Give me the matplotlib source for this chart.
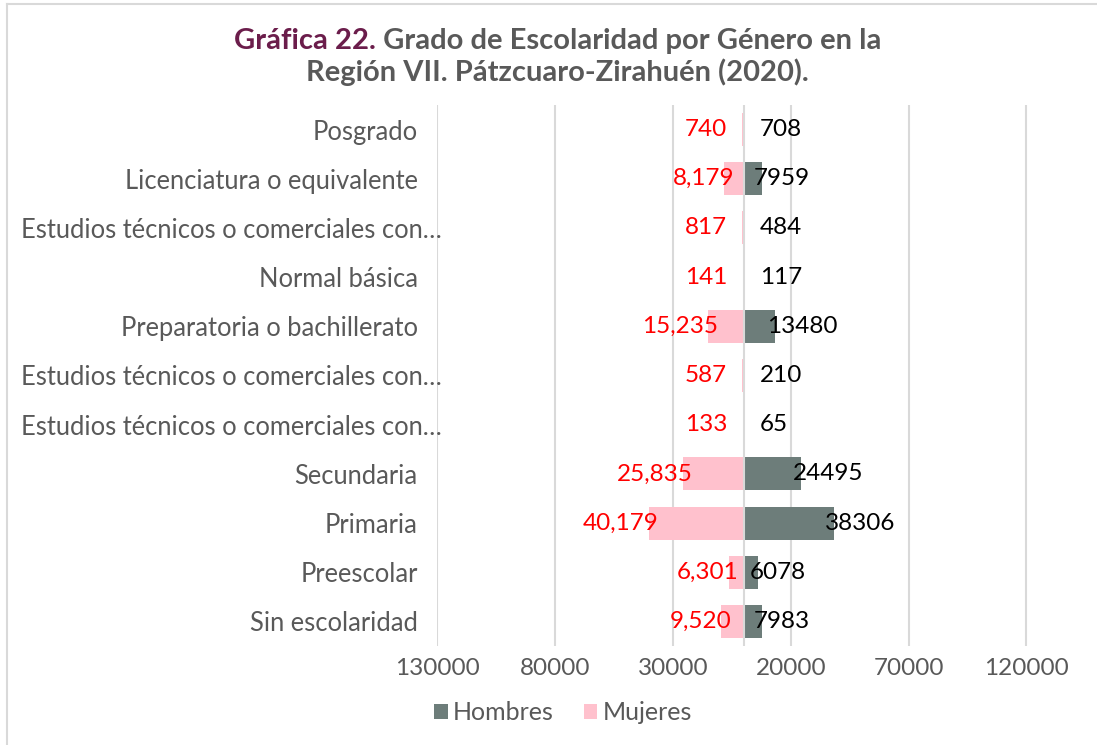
import matplotlib
matplotlib.use("Agg")
import matplotlib.pyplot as plt
from matplotlib.patches import Patch
from matplotlib.lines import Line2D
from matplotlib.transforms import ScaledTranslation

categories = [
    "Posgrado",
    "Licenciatura o equivalente",
    "Estudios técnicos o comerciales con…",
    "Normal básica",
    "Preparatoria o bachillerato",
    "Estudios técnicos o comerciales con…",
    "Estudios técnicos o comerciales con…",
    "Secundaria",
    "Primaria",
    "Preescolar",
    "Sin escolaridad",
]
mujeres = [740, 8179, 817, 141, 15235, 587, 133, 25835, 40179, 6301, 9520]
hombres = [708, 7959, 484, 117, 13480, 210, 65, 24495, 38306, 6078, 7983]
tick_values = [-130000, -80000, -30000, 20000, 70000, 120000]
tick_labels = ["130000", "80000", "30000", "20000", "70000", "120000"]

FONT = ["Lato", "DejaVu Sans"]
plt.rcParams["font.family"] = FONT

GRAY = "#595959"
MAROON = "#6B1D4B"
PINK = "#FFC1CD"
DARK = "#6D7D7A"
GRID = "#D9D9D9"

fig = plt.figure(figsize=(10.97, 7.45), dpi=100)
ax = fig.add_axes([0.3984, 0.1329, 0.5588, 0.7262])

n = len(categories)
y = list(range(n))[::-1]
bar_h = 0.67

ax.barh(y, [-m for m in mujeres], height=bar_h, color=PINK, zorder=3)
ax.barh(y, hombres, height=bar_h, color=DARK, zorder=3)

ax.set_xlim(-130000, 130000)
ax.set_ylim(-0.5, n - 0.5)
ax.set_xticks(tick_values)
ax.set_xticklabels(tick_labels)
ax.set_yticks(y)
ax.set_yticklabels(categories)
ax.tick_params(axis="both", length=0, colors=GRAY)
ax.tick_params(axis="y", pad=14, labelsize=18.4)
ax.tick_params(axis="x", pad=9, labelsize=17.5)
for s in ax.spines.values():
    s.set_visible(False)
ax.grid(axis="x", color=GRID, linewidth=1.5, zorder=0)
ax.axvline(0, color=GRID, linewidth=1.5, zorder=4)

# truncated labels sit further right, as in the original
shift = ScaledTranslation(0.24, 0, fig.dpi_scale_trans)
for lbl in ax.get_yticklabels():
    if lbl.get_text().endswith("…"):
        lbl.set_transform(lbl.get_transform() + shift)

# data labels
for yi, m, h in zip(y, mujeres, hombres):
    xr = -m + 4300 if m > 5000 else -7000
    ax.text(xr, yi, f"{m:,}", color="#FF0000", ha="right", va="center",
            fontsize=17.5, zorder=5)
    xl = h - 3600 if h > 5000 else 6800
    ax.text(xl, yi, f"{h}", color="black", ha="left", va="center",
            fontsize=17.5, zorder=5)

# title in two colours
fig.canvas.draw()
r = fig.canvas.get_renderer()
t1 = fig.text(0, 0.945, "Gráfica 22.", color=MAROON, fontsize=21,
              fontweight="bold", va="center", ha="left")
t2 = fig.text(0, 0.945, " Grado de Escolaridad por Género en la", color=GRAY,
              fontsize=21, fontweight="bold", va="center", ha="left")
w1 = t1.get_window_extent(r).width
w2 = t2.get_window_extent(r).width
W = fig.bbox.width
cx = 0.508 * W
x0 = cx - (w1 + w2) / 2
t1.set_x(x0 / W)
t2.set_x((x0 + w1) / W)
fig.text(0.508, 0.903, "Región VII. Pátzcuaro-Zirahuén (2020).", color=GRAY,
         fontsize=21, fontweight="bold", va="center", ha="center")

handles = [Patch(facecolor=DARK), Patch(facecolor=PINK)]
fig.legend(handles, ["Hombres", "Mujeres"], loc="center", ncol=2,
           bbox_to_anchor=(0.513, 0.043), frameon=False, fontsize=18,
           labelcolor=GRAY, handlelength=0.55, handleheight=0.55,
           handletextpad=0.2, columnspacing=1.2)

# light frame lines (top and left)
fig.add_artist(Line2D([0.0065, 1], [0.994, 0.994], color=GRID, lw=1.5,
                      transform=fig.transFigure))
fig.add_artist(Line2D([0.0065, 0.0065], [0, 0.994], color=GRID, lw=1.5,
                      transform=fig.transFigure))

fig.savefig("out.png", dpi=100)
